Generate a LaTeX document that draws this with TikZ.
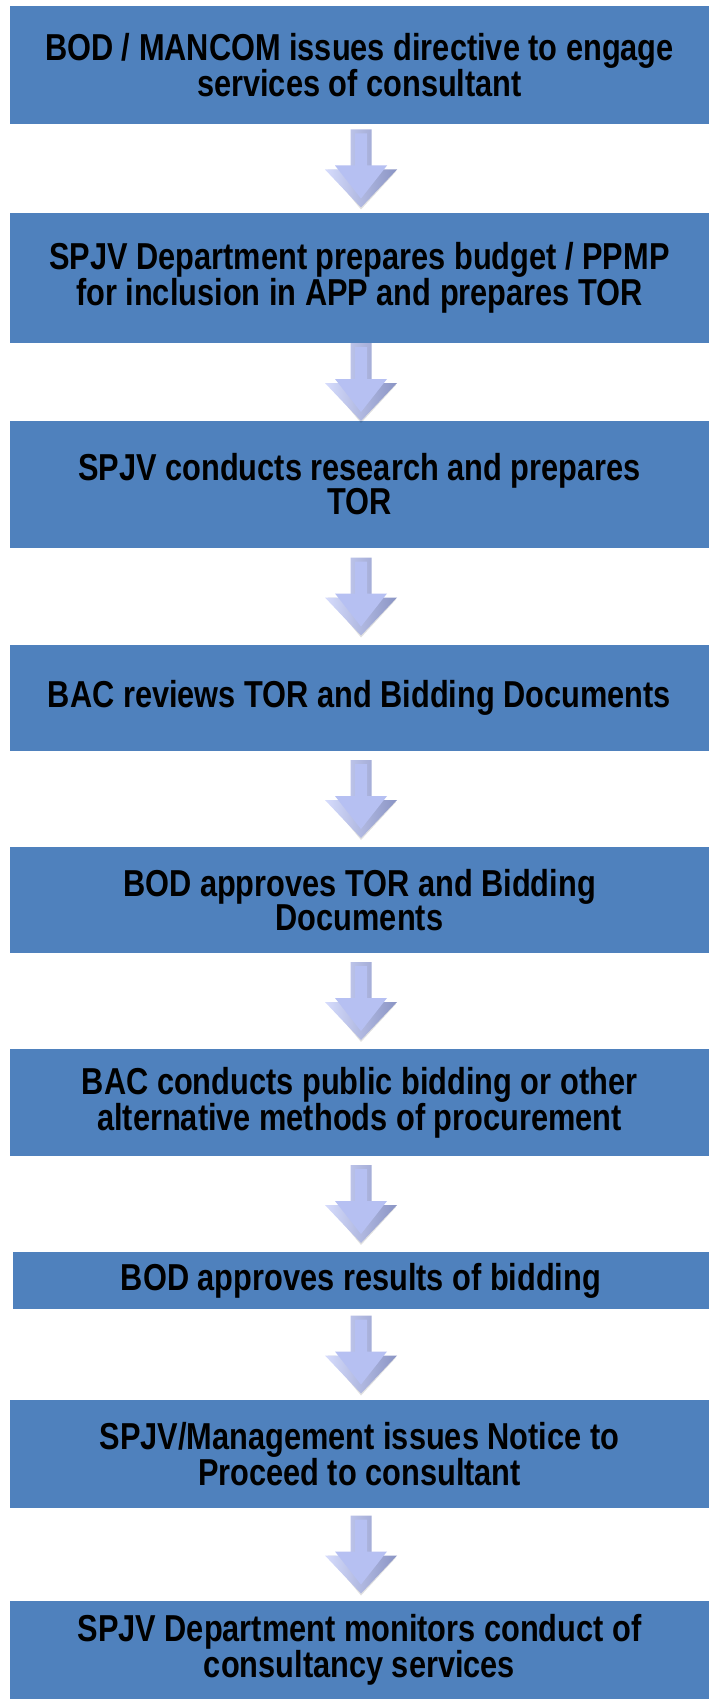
\documentclass[tikz,border=0pt]{standalone}
\usepackage{fontspec}
\setmainfont{Liberation Sans}[FakeStretch=0.82]
\usetikzlibrary{calc}
\definecolor{boxblue}{RGB}{79,129,189}
\definecolor{arrowface}{RGB}{182,192,242}
\definecolor{arrowlight}{RGB}{214,220,252}
\definecolor{arrowdark}{RGB}{138,148,196}
\tikzset{
  stepbox/.style={fill=boxblue, draw=none, inner sep=0pt, align=center,
    font=\bfseries\fontsize{37.5}{34}\selectfont, text=black},
}
\newcommand{\blockarrow}[2]{%
  \coordinate (m) at ($(#1.south)!0.5!(#2.north)$);
  \coordinate (c) at (361pt,0 |- m);
  \fill[black, opacity=0.12] ($(c)+(-33pt,-1pt)$) -- ($(c)+(0,-41pt)$) -- ($(c)+(35pt,-3pt)$) -- cycle;
  \shade[left color=arrowlight, right color=arrowdark]
    ($(c)+(-10.5pt,39pt)$) -- ($(c)+(10.5pt,39pt)$) -- ($(c)+(10.5pt,-1pt)$) --
    ($(c)+(36pt,-1pt)$) -- ($(c)+(0,-39pt)$) -- ($(c)+(-36pt,-1pt)$) --
    ($(c)+(-10.5pt,-1pt)$) -- cycle;
  \fill[arrowface]
    ($(c)+(-6pt,35pt)$) -- ($(c)+(6pt,35pt)$) -- ($(c)+(6pt,3pt)$) --
    ($(c)+(26pt,3pt)$) -- ($(c)+(0,-30pt)$) -- ($(c)+(-26pt,3pt)$) --
    ($(c)+(-6pt,3pt)$) -- cycle;
}
\begin{document}
\begin{tikzpicture}[x=1pt,y=1pt]
\useasboundingbox (0,0) rectangle (709,-1699);
\fill[white] (0,0) rectangle (709,-1699);
\node[stepbox, minimum width=699pt, minimum height=118pt] (b1) at (359.5,-65) {BOD / MANCOM issues directive to engage\\services of consultant};
\node[stepbox, minimum width=699pt, minimum height=130pt] (b2) at (359.5,-278) {SPJV Department prepares budget / PPMP\\for inclusion in APP and prepares TOR};
\node[stepbox, minimum width=699pt, minimum height=127pt] (b3) at (359.5,-484.5) {SPJV conducts research and prepares\\TOR};
\node[stepbox, minimum width=699pt, minimum height=106pt] (b4) at (359.5,-698) {BAC reviews TOR and Bidding Documents};
\node[stepbox, minimum width=699pt, minimum height=106pt] (b5) at (359.5,-900) {BOD approves TOR and Bidding\\Documents};
\node[stepbox, minimum width=699pt, minimum height=107pt] (b6) at (359.5,-1102.5) {BAC conducts public bidding or other\\alternative methods of procurement};
\node[stepbox, minimum width=696pt, minimum height=57pt] (b7) at (361,-1280.5) {BOD approves results of bidding};
\node[stepbox, minimum width=699pt, minimum height=108pt] (b8) at (359.5,-1454) {SPJV/Management issues Notice to\\Proceed to consultant};
\node[stepbox, minimum width=699pt, minimum height=98pt] (b9) at (359.5,-1650) {SPJV Department monitors conduct of\\consultancy services};
\blockarrow{b1}{b2}
\blockarrow{b2}{b3}
\blockarrow{b3}{b4}
\blockarrow{b4}{b5}
\blockarrow{b5}{b6}
\blockarrow{b6}{b7}
\blockarrow{b7}{b8}
\blockarrow{b8}{b9}
\end{tikzpicture}
\end{document}
